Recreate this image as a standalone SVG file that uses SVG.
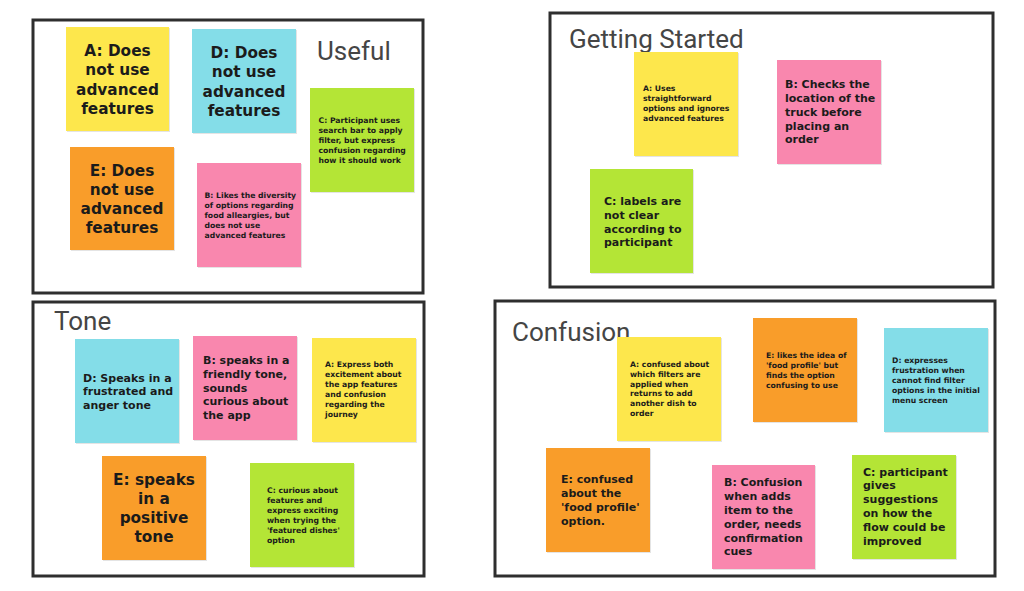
<svg xmlns="http://www.w3.org/2000/svg" width="1024" height="591" viewBox="0 0 1024 591">
<style>
.bg{fill:#ffffff}
.panel{fill:#ffffff;stroke:#2e2e2e;stroke-width:3}
.title{font-family:Roboto,"Liberation Sans",sans-serif;font-size:26px;fill:#454545}
.note{stroke:none}
.sh{fill:#e4e4e4}
.y{fill:#fde74c}
.b{fill:#84dde8}
.o{fill:#f99d2a}
.p{fill:#f987ae}
.g{fill:#b4e536}
.t{font-family:"DejaVu Sans","Liberation Sans",sans-serif;font-weight:bold;fill:#1b1b1b}
.L{font-size:15.3px;text-anchor:middle}
.M{font-size:11px}
.S{font-size:7.7px}
</style>
<rect class="bg" x="0" y="0" width="1024" height="591"/>

<g id="panel-useful">
<rect class="panel" x="33" y="20" width="390" height="273"/>
<text class="title" x="317" y="60">Useful</text>
<g id="useful-A">
<rect class="sh" x="67" y="28" width="103" height="104"/>
<rect class="note y" x="66" y="27" width="103" height="104"/>
<text class="t L"><tspan x="117.5" y="56">A: Does</tspan><tspan x="117.5" y="75">not use</tspan><tspan x="117.5" y="94.5">advanced</tspan><tspan x="117.5" y="113.5">features</tspan></text>
</g>
<g id="useful-D">
<rect class="sh" x="193" y="30" width="104" height="104"/>
<rect class="note b" x="192" y="29" width="104" height="104"/>
<text class="t L"><tspan x="244" y="58">D: Does</tspan><tspan x="244" y="77">not use</tspan><tspan x="244" y="96.5">advanced</tspan><tspan x="244" y="115.5">features</tspan></text>
</g>
<g id="useful-E">
<rect class="sh" x="71" y="148" width="104" height="103"/>
<rect class="note o" x="70" y="147" width="104" height="103"/>
<text class="t L"><tspan x="122" y="175.5">E: Does</tspan><tspan x="122" y="194.5">not use</tspan><tspan x="122" y="214">advanced</tspan><tspan x="122" y="233">features</tspan></text>
</g>
<g id="useful-B">
<rect class="sh" x="198" y="164" width="104" height="104"/>
<rect class="note p" x="197" y="163" width="104" height="104"/>
<text class="t S"><tspan x="204.5" y="198">B: Likes the diversity</tspan><tspan x="204.5" y="208">of options regarding</tspan><tspan x="204.5" y="218">food alleargies, but</tspan><tspan x="204.5" y="228">does not use</tspan><tspan x="204.5" y="237.5">advanced features</tspan></text>
</g>
<g id="useful-C">
<rect class="sh" x="311" y="89" width="104" height="104"/>
<rect class="note g" x="310" y="88" width="104" height="104"/>
<text class="t S"><tspan x="318.5" y="122.5">C: Participant uses</tspan><tspan x="318.5" y="132.5">search bar to apply</tspan><tspan x="318.5" y="142.5">filter, but express</tspan><tspan x="318.5" y="152.5">confusion regarding</tspan><tspan x="318.5" y="162.5">how it should work</tspan></text>
</g>
</g>

<g id="panel-getting-started">
<rect class="panel" x="550" y="13" width="443" height="274"/>
<text class="title" x="569" y="48">Getting Started</text>
<g id="gs-A">
<rect class="sh" x="635" y="53" width="104" height="104"/>
<rect class="note y" x="634" y="52" width="104" height="104"/>
<text class="t S"><tspan x="643" y="91">A: Uses</tspan><tspan x="643" y="101">straightforward</tspan><tspan x="643" y="111">options and ignores</tspan><tspan x="643" y="120.5">advanced features</tspan></text>
</g>
<g id="gs-B">
<rect class="sh" x="778" y="61" width="104" height="104"/>
<rect class="note p" x="777" y="60" width="104" height="104"/>
<text class="t M"><tspan x="785" y="88">B: Checks the</tspan><tspan x="785" y="102">location of the</tspan><tspan x="785" y="116">truck before</tspan><tspan x="785" y="129.5">placing an</tspan><tspan x="785" y="143">order</tspan></text>
</g>
<g id="gs-C">
<rect class="sh" x="591" y="170" width="103" height="104"/>
<rect class="note g" x="590" y="169" width="103" height="104"/>
<text class="t M"><tspan x="604" y="205">C: labels are</tspan><tspan x="604" y="218.5">not clear</tspan><tspan x="604" y="232.5">according to</tspan><tspan x="604" y="246">participant</tspan></text>
</g>
</g>

<g id="panel-tone">
<rect class="panel" x="33" y="302" width="391" height="274"/>
<text class="title" x="54" y="330">Tone</text>
<g id="tone-D">
<rect class="sh" x="76" y="340" width="104" height="104"/>
<rect class="note b" x="75" y="339" width="104" height="104"/>
<text class="t M"><tspan x="83" y="381.5">D: Speaks in a</tspan><tspan x="83" y="395">frustrated and</tspan><tspan x="83" y="408.5">anger tone</tspan></text>
</g>
<g id="tone-B">
<rect class="sh" x="194" y="337" width="104" height="104"/>
<rect class="note p" x="193" y="336" width="104" height="104"/>
<text class="t M"><tspan x="203" y="364">B: speaks in a</tspan><tspan x="203" y="377.5">friendly tone,</tspan><tspan x="203" y="391.5">sounds</tspan><tspan x="203" y="405">curious about</tspan><tspan x="203" y="419">the app</tspan></text>
</g>
<g id="tone-A">
<rect class="sh" x="313" y="339" width="104" height="104"/>
<rect class="note y" x="312" y="338" width="104" height="104"/>
<text class="t S"><tspan x="325" y="367">A: Express both</tspan><tspan x="325" y="377">excitement about</tspan><tspan x="325" y="387">the app features</tspan><tspan x="325" y="397">and confusion</tspan><tspan x="325" y="407">regarding the</tspan><tspan x="325" y="417">journey</tspan></text>
</g>
<g id="tone-E">
<rect class="sh" x="103" y="457" width="104" height="104"/>
<rect class="note o" x="102" y="456" width="104" height="104"/>
<text class="t L"><tspan x="154" y="484.5">E: speaks</tspan><tspan x="154" y="503.5">in a</tspan><tspan x="154" y="522.5">positive</tspan><tspan x="154" y="541.5">tone</tspan></text>
</g>
<g id="tone-C">
<rect class="sh" x="251" y="464" width="104" height="104"/>
<rect class="note g" x="250" y="463" width="104" height="104"/>
<text class="t S"><tspan x="267" y="493">C: curious about</tspan><tspan x="267" y="503">features and</tspan><tspan x="267" y="513">express exciting</tspan><tspan x="267" y="523">when trying the</tspan><tspan x="267" y="533">'featured dishes'</tspan><tspan x="267" y="543">option</tspan></text>
</g>
</g>

<g id="panel-confusion">
<rect class="panel" x="495" y="301" width="500" height="275"/>
<text class="title" x="512" y="341">Confusion</text>
<g id="conf-A">
<rect class="sh" x="618" y="338" width="104" height="104"/>
<rect class="note y" x="617" y="337" width="104" height="104"/>
<text class="t S"><tspan x="630" y="366.5">A: confused about</tspan><tspan x="630" y="376.5">which filters are</tspan><tspan x="630" y="386.5">applied when</tspan><tspan x="630" y="396">returns to add</tspan><tspan x="630" y="406">another dish to</tspan><tspan x="630" y="416">order</tspan></text>
</g>
<g id="conf-E1">
<rect class="sh" x="754" y="319" width="104" height="104"/>
<rect class="note o" x="753" y="318" width="104" height="104"/>
<text class="t S"><tspan x="766" y="357.5">E: likes the idea of</tspan><tspan x="766" y="367.5">'food profile' but</tspan><tspan x="766" y="377.5">finds the option</tspan><tspan x="766" y="387.5">confusing to use</tspan></text>
</g>
<g id="conf-D">
<rect class="sh" x="885" y="329" width="104" height="104"/>
<rect class="note b" x="884" y="328" width="104" height="104"/>
<text class="t S"><tspan x="892" y="362.5">D: expresses</tspan><tspan x="892" y="372.5">frustration when</tspan><tspan x="892" y="382.5">cannot find filter</tspan><tspan x="892" y="392.5">options in the initial</tspan><tspan x="892" y="402.5">menu screen</tspan></text>
</g>
<g id="conf-E2">
<rect class="sh" x="547" y="449" width="104" height="104"/>
<rect class="note o" x="546" y="448" width="104" height="104"/>
<text class="t M"><tspan x="561" y="483">E: confused</tspan><tspan x="561" y="497">about the</tspan><tspan x="561" y="511">'food profile'</tspan><tspan x="561" y="524.5">option.</tspan></text>
</g>
<g id="conf-B">
<rect class="sh" x="713" y="466" width="103" height="104"/>
<rect class="note p" x="712" y="465" width="103" height="104"/>
<text class="t M"><tspan x="724" y="486">B: Confusion</tspan><tspan x="724" y="500">when adds</tspan><tspan x="724" y="513.5">item to the</tspan><tspan x="724" y="527.5">order, needs</tspan><tspan x="724" y="541.5">confirmation</tspan><tspan x="724" y="555">cues</tspan></text>
</g>
<g id="conf-C">
<rect class="sh" x="853" y="456" width="104" height="104"/>
<rect class="note g" x="852" y="455" width="104" height="104"/>
<text class="t M"><tspan x="863" y="475.5">C: participant</tspan><tspan x="863" y="489">gives</tspan><tspan x="863" y="503">suggestions</tspan><tspan x="863" y="517">on how the</tspan><tspan x="863" y="531">flow could be</tspan><tspan x="863" y="545">improved</tspan></text>
</g>
</g>

<g id="connectors"></g>
</svg>
